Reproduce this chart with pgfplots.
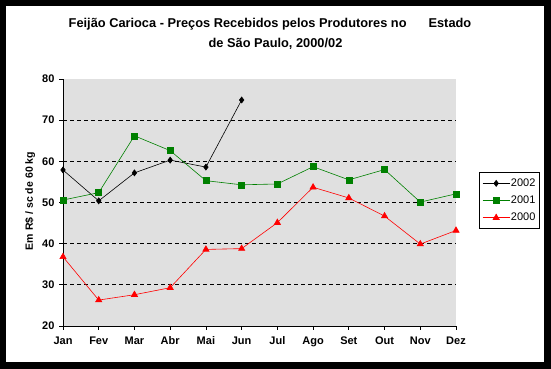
\documentclass[border=0pt]{standalone}
\usepackage{pgfplots}
\pgfplotsset{compat=1.18}
\usepackage{fontspec}
\setmainfont{Liberation Sans}
\definecolor{bggray}{RGB}{224,224,224}
\definecolor{dkgreen}{RGB}{0,128,0}
\begin{document}
\begin{tikzpicture}[x=1pt,y=1pt]
\fill[black] (0,0) rectangle (551,369);
\fill[white] (6,7) rectangle (544,363);
\node[font=\fontsize{12.8}{14}\selectfont\bfseries] at (270,345) {Feijão Carioca - Preços Recebidos pelos Produtores no\hspace{22pt}Estado};
\node[font=\fontsize{12.8}{14}\selectfont\bfseries] at (275.5,325.5) {de São Paulo, 2000/02};
\node[rotate=90,font=\fontsize{10.5}{12}\selectfont\bfseries] at (30,168) {Em R\$ / sc de 60 kg};
\begin{axis}[
  at={(63pt,43pt)}, anchor=south west,
  scale only axis, width=393pt, height=247pt,
  xmin=0, xmax=11, ymin=20, ymax=80,
  axis lines=left, axis line style={-, black, line width=0.8pt},
  axis background/.style={fill=bggray},
  xtick={0,...,11},
  xticklabels={Jan,Fev,Mar,Abr,Mai,Jun,Jul,Ago,Set,Out,Nov,Dez},
  ytick={20,30,...,80},
  tick align=outside, major tick length=4pt,
  tick style={black, line width=0.8pt},
  tick label style={font=\fontsize{11}{12}\selectfont\bfseries},
  xticklabel style={yshift=-3pt},
  yticklabel style={xshift=-1pt},
  /pgf/number format/assume math mode=true,
  clip=false,
  legend style={at={(1.0585,0.622)}, anchor=north west, draw=black, line width=0.8pt,
    font=\fontsize{11}{12}\selectfont, row sep=6pt, inner xsep=3pt, inner ysep=5pt,
    nodes={inner sep=1pt}},
  legend cell align=left,
  legend image code/.code={\draw[mark repeat=2,mark phase=2,#1] plot coordinates {(0pt,0pt) (13.5pt,0pt) (27pt,0pt)};},
]
\pgfplotsinvokeforeach{30,40,50,60,70}{\draw[black, line width=0.7pt, dash pattern=on 4pt off 3pt] (axis cs:0,#1) -- (axis cs:11,#1);}
\addplot[black, line width=0.6pt, mark=diamond*, mark size=3pt, mark options={solid,fill=black}]
 coordinates {(0,57.9) (1,50.4) (2,57.2) (3,60.3) (4,58.6) (5,74.9)};
\addlegendentry{2002}
\addplot[dkgreen, line width=0.6pt, mark=square*, mark size=3pt, mark options={solid,fill=dkgreen}]
 coordinates {(0,50.6) (1,52.4) (2,66.2) (3,62.6) (4,55.3) (5,54.3) (6,54.5) (7,58.7) (8,55.5) (9,58.0) (10,50.1) (11,52.1)};
\addlegendentry{2001}
\addplot[red, line width=0.6pt, mark=triangle*, mark size=3.6pt, mark options={solid,fill=red}]
 coordinates {(0,36.8) (1,26.3) (2,27.6) (3,29.3) (4,38.6) (5,38.8) (6,45.1) (7,53.7) (8,51.1) (9,46.7) (10,39.9) (11,43.2)};
\addlegendentry{2000}
\end{axis}
\end{tikzpicture}
\end{document}
